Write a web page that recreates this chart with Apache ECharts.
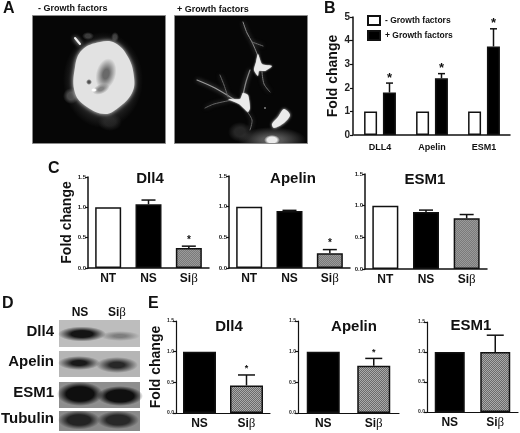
<!DOCTYPE html>
<html><head><meta charset="utf-8">
<style>html,body{margin:0;padding:0;background:#fff}#c{width:520px;height:433px}</style>
<script src="https://cdn.jsdelivr.net/npm/echarts@6/dist/echarts.min.js"></script>
</head><body><div id="c"></div>
<script>
// ---- data ----
const bCategories = ['DLL4', 'Apelin', 'ESM1'];
const bMinus = [1, 1, 1];
const bPlus = [1.8, 2.4, 3.75];
const bPlusTop = [2.2, 2.6, 4.5];
const bStars = [1, 1, 1];
const bTicks = [0, 1, 2, 3, 4, 5];

const cCategories = ['NT', 'NS', 'Siβ'];
const cDll4 = [1, 1.05, 0.33];
const cDll4Top = [null, 1.12, 0.36];
const cDll4Stars = [0, 0, 1];
const cApelin = [1, 0.93, 0.24];
const cApelinTop = [null, 0.94, 0.3];
const cApelinStars = [0, 0, 1];
const cEsm1 = [1, 0.9, 0.8];
const cEsm1Top = [null, 0.93, 0.86];
const cEsm1Stars = [0, 0, 0];

const eCategories = ['NS', 'Siβ'];
const eDll4 = [1, 0.45];
const eDll4Top = [null, 0.62];
const eDll4Stars = [0, 1];
const eApelin = [1, 0.77];
const eApelinTop = [null, 0.89];
const eApelinStars = [0, 1];
const eEsm1 = [1, 1.0];
const eEsm1Top = [null, 1.28];
const eEsm1Stars = [0, 0];

const FONT = '"Liberation Sans", Arial, sans-serif';

function pattern(a, b, n) {
  const cv = document.createElement('canvas');
  cv.width = cv.height = n * 2;
  const g = cv.getContext('2d');
  g.fillStyle = a; g.fillRect(0, 0, n * 2, n * 2);
  g.fillStyle = b; g.fillRect(0, 0, n, n); g.fillRect(n, n, n, n);
  return cv;
}
const hatchC = { image: pattern('#7a7a7a', '#9a9a9a', 1), repeat: 'repeat' };
const hatchE = { image: pattern('#6a6a6a', '#aaaaaa', 1), repeat: 'repeat' };

const grids = [], xAxes = [], yAxes = [], series = [], titles = [];

function addPanel(p) {
  const i = grids.length;
  grids.push({ left: p.left, width: p.width, top: p.top, height: p.height, containLabel: false });
  const rich = {
    a: { fontFamily: FONT, fontWeight: 'bold', fontSize: p.xSize, color: '#111', lineHeight: p.xSize + 2, verticalAlign: 'middle' },
    b: { fontFamily: '"Liberation Serif", serif', fontSize: p.xSize + 1, color: '#111', fontWeight: 'normal', lineHeight: p.xSize + 2, verticalAlign: 'middle' }
  };
  xAxes.push({
    type: 'category', gridIndex: i, data: p.cats,
    axisLine: { lineStyle: { color: '#111', width: p.lw || 1.5 } },
    axisTick: { alignWithLabel: true, length: 3, lineStyle: { color: '#111', width: 1.2 } },
    axisLabel: {
      show: true, interval: 0, hideOverlap: false,
      color: '#111', fontWeight: 'bold', fontSize: p.xSize, margin: p.xMargin, fontFamily: FONT,
      formatter: v => v.endsWith('β') ? '{a|' + v.slice(0, -1) + '}{b|β}' : '{a|' + v + '}',
      rich
    }
  });
  yAxes.push({
    type: 'value', gridIndex: i, min: 0, max: p.max, interval: p.interval,
    offset: p.yOffset || 0,
    name: p.yName || '', nameLocation: 'middle', nameGap: p.nameGap || 20, nameRotate: 90,
    nameTextStyle: { color: '#111', fontWeight: 'bold', fontSize: 14, fontFamily: FONT },
    splitLine: { show: false },
    axisLine: { show: true, lineStyle: { color: '#111', width: p.lw || 1.5 } },
    axisTick: { show: true, length: 3, lineStyle: { color: '#111', width: 1.2 } },
    axisLabel: {
      color: '#222', fontWeight: 'bold', fontSize: p.ySize, margin: p.yMargin, fontFamily: FONT,
      formatter: v => p.decimals ? v.toFixed(p.decimals) : String(v)
    }
  });
  if (p.title) {
    titles.push({
      text: p.title, left: p.titleX, top: p.titleY, textAlign: 'center', padding: 0,
      textStyle: { fontSize: 15, fontWeight: 'bold', color: '#111', fontFamily: FONT }
    });
  }
  return i;
}

function errorSeries(i, tops, stars, opt) {
  const rows = tops.map((t, k) => [k, t == null ? 0 : t, stars[k], t == null ? 0 : 1]);
  series.push({
    type: 'custom', xAxisIndex: i, yAxisIndex: i, silent: true, z: 5,
    data: rows, encode: { x: 0, y: 1 },
    renderItem: (params, api) => {
      const has = api.value(3), star = api.value(2);
      if (!has) return null;
      const top = api.coord([api.value(0), api.value(1)]);
      const base = api.coord([api.value(0), opt.bases[api.value(0)]]);
      const x = top[0] + (opt.dx || 0), h = opt.cap / 2;
      const lst = { stroke: '#111', lineWidth: 1.5 };
      const children = [
        { type: 'line', shape: { x1: x, y1: base[1], x2: x, y2: top[1] }, style: lst },
        { type: 'line', shape: { x1: x - h, y1: top[1], x2: x + h, y2: top[1] }, style: lst }
      ];
      if (star) children.push({
        type: 'text',
        style: { text: '*', x: x, y: top[1] - opt.starGap, fill: '#111', textAlign: 'center', textVerticalAlign: 'middle',
          font: 'bold ' + opt.starSize + 'px ' + FONT }
      });
      return { type: 'group', children };
    }
  });
}

function barSeries(i, vals, fills, width, name, extra) {
  series.push(Object.assign({
    type: 'bar', xAxisIndex: i, yAxisIndex: i, name: name, barWidth: width, z: 3,
    itemStyle: { color: fills[0], borderColor: '#111', borderWidth: 1.5 },
    data: vals.map((v, k) => ({ value: v, itemStyle: { color: fills[k], borderColor: '#111', borderWidth: 1.5 } }))
  }, extra || {}));
}

// ---- panel B ----
{
  const i = addPanel({ left: 354, width: 156, top: 17, height: 118, cats: bCategories, max: bTicks[bTicks.length - 1], interval: 1,
    xSize: 9, xMargin: 7, ySize: 10, yMargin: 3, yOffset: 1, yName: 'Fold change', nameGap: 12 });
  barSeries(i, bMinus, ['#fff', '#fff', '#fff'], 13, '- Growth factors', { barGap: '45%' });
  barSeries(i, bPlus, ['#000', '#000', '#000'], 13, '+ Growth factors', { barGap: '45%' });
  errorSeries(i, bPlusTop, bStars, { bases: bPlus, dx: 9.5, cap: 7, starGap: 5, starSize: 13 });
}
// ---- panel C ----
const whiteBlackGrey = ['#fff', '#000', hatchC];
[
  { left: 88, width: 121, top: 177, height: 91, v: cDll4, t: cDll4Top, s: cDll4Stars, title: 'Dll4', tx: 150, ty: 171, yName: 'Fold change' },
  { left: 229, width: 121, top: 176, height: 92, v: cApelin, t: cApelinTop, s: cApelinStars, title: 'Apelin', tx: 293, ty: 171 },
  { left: 365, width: 122, top: 174, height: 95, v: cEsm1, t: cEsm1Top, s: cEsm1Stars, title: 'ESM1', tx: 425, ty: 172 }
].forEach(c => {
  const i = addPanel({ left: c.left, width: c.width, top: c.top, height: c.height, cats: cCategories, max: 1.5, interval: 0.5, decimals: 1,
    xSize: 12, xMargin: 4, ySize: 6, yMargin: 2, yName: c.yName, nameGap: 14, title: c.title, titleX: c.tx, titleY: c.ty });
  barSeries(i, c.v, whiteBlackGrey, 26, c.title);
  errorSeries(i, c.t, c.s, { bases: c.v, cap: 14, starGap: 6, starSize: 10 });
});
// ---- panel E ----
const blackGrey = ['#000', hatchE];
[
  { left: 176, width: 94, top: 321, height: 92, v: eDll4, t: eDll4Top, s: eDll4Stars, title: 'Dll4', tx: 229, ty: 319, bw: 33, yName: 'Fold change' },
  { left: 298, width: 101, top: 321, height: 92, v: eApelin, t: eApelinTop, s: eApelinStars, title: 'Apelin', tx: 354, ty: 319, bw: 33 },
  { left: 427, width: 91, top: 322, height: 90, v: eEsm1, t: eEsm1Top, s: eEsm1Stars, title: 'ESM1', tx: 471, ty: 318, bw: 30 }
].forEach(c => {
  const i = addPanel({ left: c.left, width: c.width, top: c.top, height: c.height, cats: eCategories, max: 1.5, interval: 0.5, decimals: 1,
    xSize: 12, xMargin: 4, ySize: 5, yMargin: 2, yName: c.yName, nameGap: 11, title: c.title, titleX: c.tx, titleY: c.ty, lw: 1.2 });
  barSeries(i, c.v, blackGrey, c.bw, c.title);
  errorSeries(i, c.t, c.s, { bases: c.v, cap: 17, starGap: 6, starSize: 9 });
});

// ---- decoration: letters, photographs, blots ----
function radial(stops) {
  return { type: 'radial', x: 0.5, y: 0.5, r: 0.5, colorStops: stops.map(s => ({ offset: s[0], color: s[1] })) };
}
function blob(cx, cy, rx, ry, core, rot, soft, z) {
  const s = soft == null ? 0.45 : soft;
  const transparent = core.replace(/[\d.]+\)$/, '0)');
  return { type: 'circle', silent: true, z: z == null ? -5 : z,
    shape: { cx: 0, cy: 0, r: 10 }, x: cx, y: cy, rotation: rot || 0, scaleX: rx / 10, scaleY: ry / 10,
    style: { fill: radial([[0, core], [s, core], [1, transparent]]) } };
}
function label(text, x, y, size, align, extra) {
  return Object.assign({ type: 'text', silent: true, z: 1,
    style: { text, x, y, fill: '#111', font: 'bold ' + size + 'px ' + FONT, textAlign: align || 'left', textVerticalAlign: 'middle' } }, extra || {});
}
function rect(x, y, w, h, fill, stroke) {
  return { type: 'rect', silent: true, z: -6, shape: { x, y, width: w, height: h }, style: { fill, stroke: stroke || null, lineWidth: stroke ? 1 : 0 } };
}
function branch(pts, w, col) {
  return { type: 'polyline', silent: true, z: -4, shape: { points: pts, smooth: 0.3 },
    style: { stroke: col, lineWidth: w, fill: null, lineCap: 'round', shadowBlur: 4, shadowColor: col } };
}
function poly(pts, fill, blur, smooth) {
  return { type: 'polygon', silent: true, z: -4, shape: { points: pts, smooth: smooth == null ? 0.4 : smooth },
    style: { fill, shadowBlur: blur, shadowColor: fill } };
}
const W = 'rgba(235,235,235,1)';
const g = [
  label('A', 3, 9, 16), label('B', 324, 9, 16), label('C', 48, 169, 16), label('D', 2, 304, 16), label('E', 148, 304, 16),
  label('- Growth factors', 38, 8.5, 9), label('+ Growth factors', 177, 9.5, 9),

  // left micrograph
  rect(32.5, 15.5, 133, 128, '#060606', '#8a8a8a'),
  blob(103, 80, 40, 48, 'rgba(90,90,90,0.4)', 0, 0.7),
  blob(71, 96, 8, 8, 'rgba(110,110,110,0.6)'),
  blob(115, 37, 4, 5, 'rgba(100,100,100,0.6)'),
  blob(88, 36, 6, 4, 'rgba(110,110,110,0.5)'),
  blob(110, 122, 12, 9, 'rgba(70,70,70,0.4)'),
  poly([[100, 42], [115, 43], [128, 57], [134, 77], [132, 93], [118, 108], [105, 114], [87, 107], [75, 93], [75, 67], [82, 50]], '#e2e2e2', 4),
  blob(106, 74, 10, 16, 'rgba(105,105,105,1)', -0.25, 0.3, -3),
  blob(101, 89, 9, 5, 'rgba(130,130,130,1)', 0.4, 0.3, -3),
  blob(89, 82, 3, 3, 'rgba(80,80,80,1)', 0, 0.4, -3),
  blob(94, 90, 3, 2, 'rgba(255,255,255,1)', 0, 0.5, -2),
  branch([[75, 38], [80, 44]], 2, '#eeeeee'),

  // right micrograph
  rect(174.5, 15.5, 133, 128, '#060606', '#8a8a8a'),
  branch([[243, 22], [247, 33], [252, 42], [258, 56]], 1, '#8a8a8a'),
  branch([[252, 42], [263, 46]], 1, '#6a6a6a'),
  branch([[262, 72], [264, 84], [270, 92]], 1, '#777777'),
  branch([[235, 100], [215, 88], [197, 80]], 1.2, '#9a9a9a'),
  branch([[243, 95], [246, 82], [250, 70]], 1.2, '#888888'),
  branch([[228, 97], [224, 85], [220, 75]], 1, '#666666'),
  branch([[232, 100], [214, 104], [205, 108]], 1, '#666666'),
  branch([[246, 110], [252, 120], [250, 130]], 1, '#666666'),
  blob(272, 140, 34, 13, 'rgba(130,130,130,0.65)', 0, 0.3),
  blob(272, 140, 8, 5, 'rgba(235,235,235,1)', 0, 0.6),
  blob(240, 132, 12, 10, 'rgba(70,70,70,0.5)'),
  poly([[258, 54], [262, 64], [272, 66], [265, 71], [259, 71], [258, 76], [254, 70], [256, 62]], W, 2, 0.2),
  poly([[243, 93], [248, 95], [250, 108], [248, 112], [239, 104], [228, 99], [240, 99]], W, 2, 0.2),
  poly([[284, 109], [290, 115], [284, 123], [274, 128], [272, 124], [278, 117]], W, 3, 0.3),
  { type: 'circle', silent: true, z: -4, shape: { cx: 265, cy: 108, r: 0.8 }, style: { fill: '#ddd' } },
  // mask below micrograph for the bottom glow
  { type: 'rect', silent: true, z: -3, shape: { x: 170, y: 144, width: 145, height: 12 }, style: { fill: '#fff' } },
  { type: 'line', silent: true, z: -3, shape: { x1: 174.5, y1: 143.5, x2: 307.5, y2: 143.5 }, style: { stroke: '#8a8a8a', lineWidth: 1 } },

  // blots
  label('NS', 80, 313, 12, 'center'),
  { type: 'text', silent: true, style: { rich: { a: { font: 'bold 12px ' + FONT, fill: '#111' }, b: { font: '13px "Liberation Serif", serif', fill: '#111' } }, text: '{a|Si}{b|β}', x: 117, y: 313, textAlign: 'center', textVerticalAlign: 'middle' } },
  label('Dll4', 54, 332, 15, 'right'), label('Apelin', 54, 362, 15, 'right'), label('ESM1', 54, 393, 15, 'right'), label('Tubulin', 54, 419, 15, 'right'),

  rect(59, 320, 81, 27, '#bdbdbd'),
  blob(82, 334, 24, 7.5, 'rgba(20,20,20,1)', 0, 0.45),
  blob(120, 336, 20, 5, 'rgba(110,110,110,0.8)', 0, 0.3),

  rect(59, 351, 81, 26, '#b5b5b5'),
  blob(79, 363, 21, 7, 'rgba(25,25,25,1)', 0, 0.35),
  blob(117, 365, 21, 8, 'rgba(40,40,40,1)', 0, 0.35),

  rect(59, 382, 81, 26, '#8e8e8e'),
  blob(80, 394, 23, 12, 'rgba(15,15,15,1)', 0, 0.6),
  blob(120, 396, 23, 10, 'rgba(15,15,15,1)', 0, 0.6),

  rect(59, 411, 81, 20, '#8a8a8a'),
  blob(79, 420, 21, 9.5, 'rgba(35,35,35,1)', 0, 0.55),
  blob(118, 420, 21, 9, 'rgba(40,40,40,1)', 0, 0.55)
];

const chart = echarts.init(document.getElementById('c'), null, { renderer: 'canvas', width: 520, height: 433 });
chart.setOption({
  animation: false,
  backgroundColor: '#fff',
  textStyle: { fontFamily: FONT },
  title: titles,
  legend: {
    data: ['- Growth factors', '+ Growth factors'], orient: 'vertical', left: 367, top: 15,
    itemWidth: 12, itemHeight: 9, itemGap: 4, padding: 0, icon: 'rect',
    selectedMode: false,
    textStyle: { fontSize: 8.5, fontWeight: 'bold', color: '#111', fontFamily: FONT }
  },
  grid: grids, xAxis: xAxes, yAxis: yAxes, series, graphic: { elements: g }
});
</script></body></html>
